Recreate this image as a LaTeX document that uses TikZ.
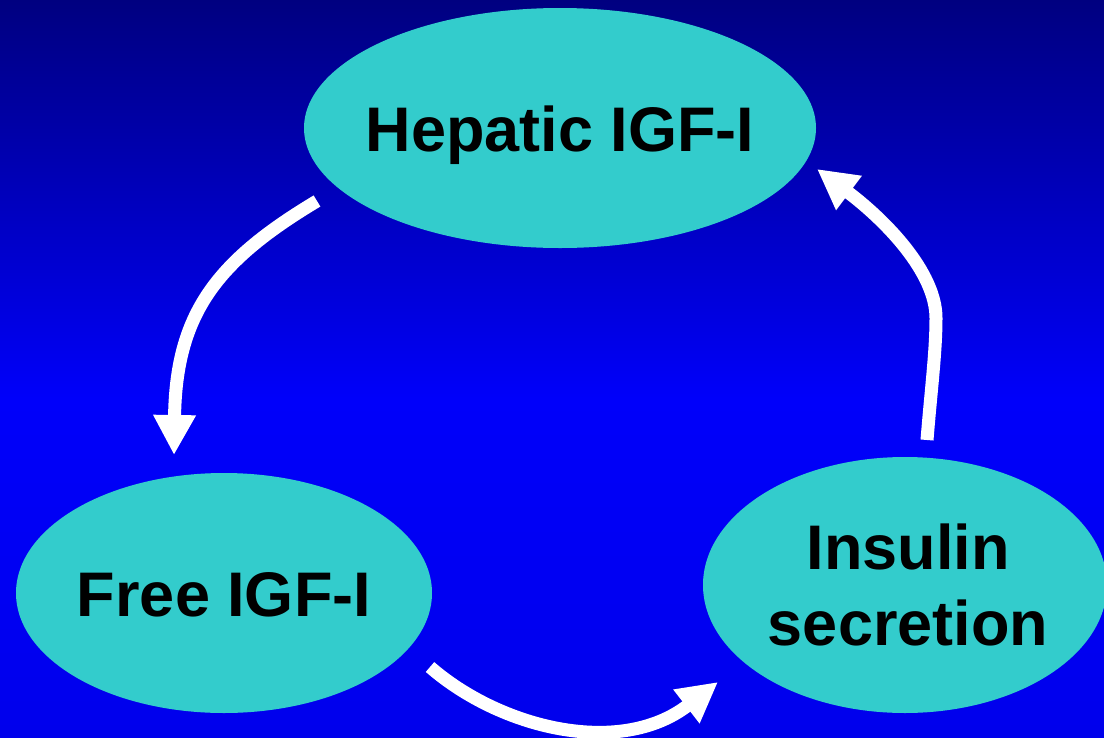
\documentclass[tikz,border=0pt]{standalone}
\usepackage{fontspec}
\setmainfont{Liberation Sans}
\usetikzlibrary{shapes.geometric,arrows.meta}
\definecolor{navytop}{RGB}{0,0,128}
\definecolor{bluemid}{RGB}{0,0,250}
\definecolor{bluebot}{RGB}{0,0,236}
\definecolor{cellcyan}{RGB}{51,204,204}
% backdrop: navy at the top, bright blue from a little above the middle down
% (the shaded path spans 25bp to 75bp of the shading)
\pgfdeclareverticalshading{backdrop}{100bp}{%
  color(0bp)=(bluebot); color(25bp)=(bluebot); color(48bp)=(bluemid);
  color(75bp)=(navytop); color(100bp)=(navytop)}
\tikzset{
  cell/.style={ellipse, fill=cellcyan, draw=none, inner sep=0pt},
  celltext/.style={font=\fontsize{63}{76}\selectfont\bfseries, text=black,
    align=center, inner sep=0pt},
  oneline/.style={text height=46pt, text depth=0pt},
  flow/.style={draw=white, line width=13pt, line cap=butt,
    -{Triangle[length=40pt,width=40pt]}},
}
\begin{document}
\begin{tikzpicture}[x=1pt,y=-1pt]
  \shade[shading=backdrop] (0,0) rectangle (1104,737);
  \useasboundingbox (0,0) rectangle (1104,737);

  % the three stages
  \node[cell, minimum width=512pt, minimum height=240pt] (hep) at (560,128) {};
  \node[cell, minimum width=416pt, minimum height=240pt] (free) at (224,593) {};
  \node[cell, minimum width=404pt, minimum height=256pt] (ins) at (905,585) {};
  \node[celltext, oneline] (hept) at (hep) {Hepatic IGF-I};
  \node[celltext, oneline] (freet) at (free) {Free IGF-I};
  \node[celltext] (inst) at ([xshift=3pt]ins.center) {Insulin\\secretion};

  % connector end points beside the stages
  \coordinate (a1) at (317,201);
  \coordinate (b1) at (174,455);
  \coordinate (a2) at (430,667);
  \coordinate (b2) at (718,682);
  \coordinate (a3) at (927,440);
  \coordinate (m3) at (936,318);
  \coordinate (b3) at (817,169);

  % cycle arrows
  \draw[flow] (a1) .. controls (215,262) and (176,315) .. (b1);
  \draw[flow] (a2) .. controls (500,728) and (620,758) .. (b2);
  \draw[flow] (a3) .. controls (931,390) and (936,352) .. (m3)
                   .. controls (936,272) and (885,220) .. (b3);
\end{tikzpicture}
\end{document}
